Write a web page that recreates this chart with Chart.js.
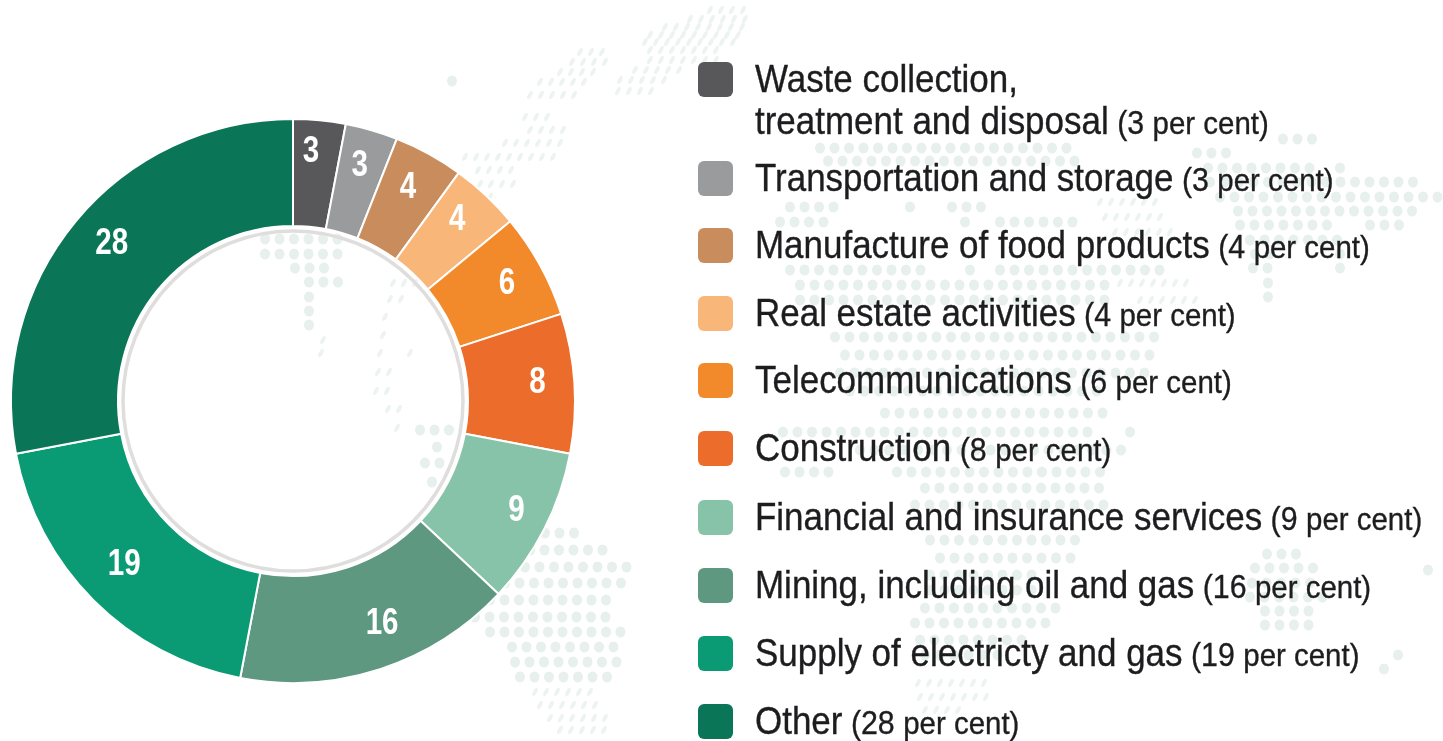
<!DOCTYPE html>
<html>
<head>
<meta charset="utf-8">
<title>Sectors</title>
<script src="https://cdn.jsdelivr.net/npm/chart.js@4"></script>
<style>
    html, body { margin: 0; padding: 0; background: #fff; overflow: hidden; }
    #wrap { position: relative; width: 1443px; height: 741px; overflow: hidden; }
    #chart { position: absolute; left: 0; top: 0; }
    .swatch { position: absolute; left: 698px; width: 35px; height: 35px; border-radius: 6px; }
    .label { position: absolute; left: 755px; white-space: nowrap; color: #1d1d1f; line-height: 42px;
             font-family: "Liberation Sans", sans-serif; font-size: 38px;
             -webkit-text-stroke: 0.35px #1d1d1f;
             transform: scaleX(0.92); transform-origin: left top; }
    .label .num { font-size: 33px; }
    .label .unit { font-size: 32px; }
</style>
</head>
<body>
<div id="wrap">
    <canvas id="chart" width="1443" height="741"></canvas>
    <div id="legend"></div>
</div>
<script>
//---------------------------DATA ZONE---------------------------//
const categories = [
    'Waste collection,\ntreatment and disposal',
    'Transportation and storage',
    'Manufacture of food products',
    'Real estate activities',
    'Telecommunications',
    'Construction',
    'Financial and insurance services',
    'Mining, including oil and gas',
    'Supply of electricty and gas',
    'Other'
];
const shares = [3, 3, 4, 4, 6, 8, 9, 16, 19, 28];
const sliceColors = ['#58585a', '#9a9b9c', '#c98c5c', '#f8b679', '#f28a2c', '#ec6c2b', '#87c3a8', '#5e9880', '#0b9b74', '#0b7657'];

// legend rows (top of each swatch)
const swatchTops = [62, 161, 228, 296, 363, 431, 500, 568, 636, 704];
// small shift of each value label away from its slice position
const labelShiftX = [-5, -1, -2, -2, 1, 2, 7, 14, 3, 6];
const labelShiftY = [-7, -2, 0, -4, 0, -3, -1, -8, -8, -2];

//------------------------BACKGROUND MAP ZONE----------------------//
// decorative dot map: [row y, first x, last x]
const mapDots = [
    [139, 1283, 1312], [153, 1197, 1226], [148, 820, 1080], [161, 828, 1080],
    [168, 1208, 1317], [168, 1340, 1340], [182, 1210, 1427], [197, 1220, 1440],
    [207, 790, 840], [207, 910, 910], [207, 952, 990], [222, 780, 825], [222, 965, 965],
    [222, 1000, 1080], [211, 1238, 1412], [225, 1240, 1340], [225, 1370, 1400],
    [240, 1250, 1345], [254, 1255, 1275], [254, 1340, 1340], [268, 1253, 1270], [268, 1340, 1340],
    [283, 1268, 1268], [297, 1268, 1268],
    [270, 790, 925], [270, 970, 970], [270, 1000, 1170],
    [285, 800, 1105], [300, 800, 1110], [337, 835, 1160], [355, 845, 1160], [373, 840, 1145],
    [391, 850, 1100], [413, 885, 1105], [432, 783, 1097], [432, 1130, 1130],
    [450, 860, 1125], [472, 785, 830], [472, 897, 1110], [488, 925, 1110], [505, 915, 1110],
    [540, 930, 1075], [558, 940, 1075], [575, 930, 1040], [590, 930, 1040], [608, 925, 1065],
    [623, 915, 1055], [640, 920, 1025], [655, 925, 1000],
    [554, 1267, 1300], [568, 1255, 1315], [583, 1252, 1320], [597, 1250, 1325], [611, 1265, 1315], [625, 1265, 1315],
    [570, 1428, 1428], [655, 1398, 1398], [669, 1384, 1384],
    [533, 545, 577], [550, 530, 603], [567, 525, 630], [583, 505, 625], [600, 490, 620],
    [617, 475, 617], [632, 490, 630], [647, 512, 627], [662, 515, 625], [677, 520, 612],
    [239, 265, 338], [254, 265, 338], [268, 295, 338], [282, 309, 338], [297, 309, 323], [311, 309, 323], [325, 309, 323],
    [81, 452, 452], [430, 420, 450], [447, 437, 450], [463, 425, 447], [482, 432, 440]
];
// narrow slanted dots on the top of the globe: [row y, first x, last x]
const mapDashes = [
    [10, 710, 752], [19, 690, 748], [27, 665, 750], [35, 650, 742], [42, 645, 740], [50, 650, 725], [60, 650, 720],
    [70, 635, 685], [80, 620, 665], [91, 618, 655],
    [52, 580, 605], [62, 572, 605], [72, 560, 600], [82, 540, 590], [95, 530, 575], [117, 525, 555],
    [130, 530, 570], [143, 505, 565], [157, 465, 560], [170, 478, 515], [184, 480, 520], [197, 490, 500],
    [692, 535, 600], [705, 540, 602], [718, 550, 606], [730, 560, 610],
    [683, 918, 990], [697, 920, 990], [710, 925, 965],
    [202, 1100, 1155], [217, 1105, 1165], [232, 1115, 1175], [283, 1120, 1195], [300, 1140, 1200],
    [283, 393, 415], [299, 390, 410], [317, 385, 385], [335, 383, 383], [353, 380, 380], [353, 410, 418],
    [372, 378, 393], [391, 376, 392], [409, 388, 400], [428, 397, 397], [340, 323, 323], [353, 321, 321]
];

//---------------------------PLUGINS ZONE--------------------------//
const dotMapPlugin = {
    id: 'dotMap',
    beforeDraw(chart) {
        const ctx = chart.ctx;
        ctx.save();
        ctx.filter = 'blur(0.7px)';
        ctx.fillStyle = '#e7f0ed';
        mapDots.forEach(([y, x0, x1]) => {
            for (let x = x0; x <= x1; x += 14.5) {
                ctx.beginPath();
                ctx.ellipse(x, y, 5, 5.5, 0, 0, Math.PI * 2);
                ctx.fill();
            }
        });
        ctx.fillStyle = '#edf3f1';
        mapDashes.forEach(([y, x0, x1]) => {
            for (let x = x0; x <= x1; x += 11) {
                ctx.beginPath();
                ctx.ellipse(x, y, 2, 4.5, 0.5, 0, Math.PI * 2);
                ctx.fill();
            }
        });
        ctx.restore();
    }
};

// value labels on the slices + the thin grey ring inside the hole
const sliceLabelPlugin = {
    id: 'sliceLabels',
    afterDatasetsDraw(chart) {
        const ctx = chart.ctx;
        const arcs = chart.getDatasetMeta(0).data;
        const cx = arcs[0].x;
        const cy = arcs[0].y;

        ctx.save();
        ctx.strokeStyle = '#e0dedd';
        ctx.lineWidth = 3.5;
        ctx.beginPath();
        ctx.arc(cx, cy, 170, 0, Math.PI * 2);
        ctx.stroke();

        ctx.fillStyle = '#ffffff';
        ctx.font = 'bold 37px "Liberation Sans", sans-serif';
        ctx.textAlign = 'center';
        ctx.textBaseline = 'middle';
        arcs.forEach((arc, i) => {
            const mid = (arc.startAngle + arc.endAngle) / 2;
            ctx.save();
            ctx.translate(cx + Math.cos(mid) * 243 + labelShiftX[i], cy + Math.sin(mid) * 243 + labelShiftY[i]);
            ctx.scale(0.8, 1);
            ctx.fillText(String(shares[i]), 0, 0);
            ctx.restore();
        });
        ctx.restore();
    }
};

//---------------------------DISPLAY ZONE--------------------------//
new Chart(document.getElementById('chart').getContext('2d'), {
    type: 'doughnut',
    data: {
        labels: categories,
        datasets: [{
            data: shares,
            backgroundColor: sliceColors,
            borderColor: '#ffffff',
            borderWidth: 2
        }]
    },
    options: {
        responsive: false,
        animation: false,
        cutout: 175,
        layout: { padding: { left: 10, right: 867, top: 118, bottom: 57 } },
        plugins: { legend: { display: false }, tooltip: { enabled: false } }
    },
    plugins: [dotMapPlugin, sliceLabelPlugin]
});

function displayLegend() {
    const legend = document.getElementById('legend');
    categories.forEach((name, i) => {
        const swatch = document.createElement('div');
        swatch.className = 'swatch';
        swatch.style.top = swatchTops[i] + 'px';
        swatch.style.background = sliceColors[i];
        legend.appendChild(swatch);

        const lines = name.split('\n');
        const label = document.createElement('div');
        label.className = 'label';
        label.style.top = (swatchTops[i] - 4) + 'px';
        lines.forEach((line, n) => {
            if (n > 0) label.appendChild(document.createElement('br'));
            label.appendChild(document.createTextNode(line));
        });
        const num = document.createElement('span');
        num.className = 'num';
        num.textContent = ' (' + shares[i] + ' ';
        const unit = document.createElement('span');
        unit.className = 'unit';
        unit.textContent = 'per cent)';
        label.appendChild(num);
        label.appendChild(unit);
        legend.appendChild(label);
    });
}
displayLegend();
</script>
</body>
</html>
